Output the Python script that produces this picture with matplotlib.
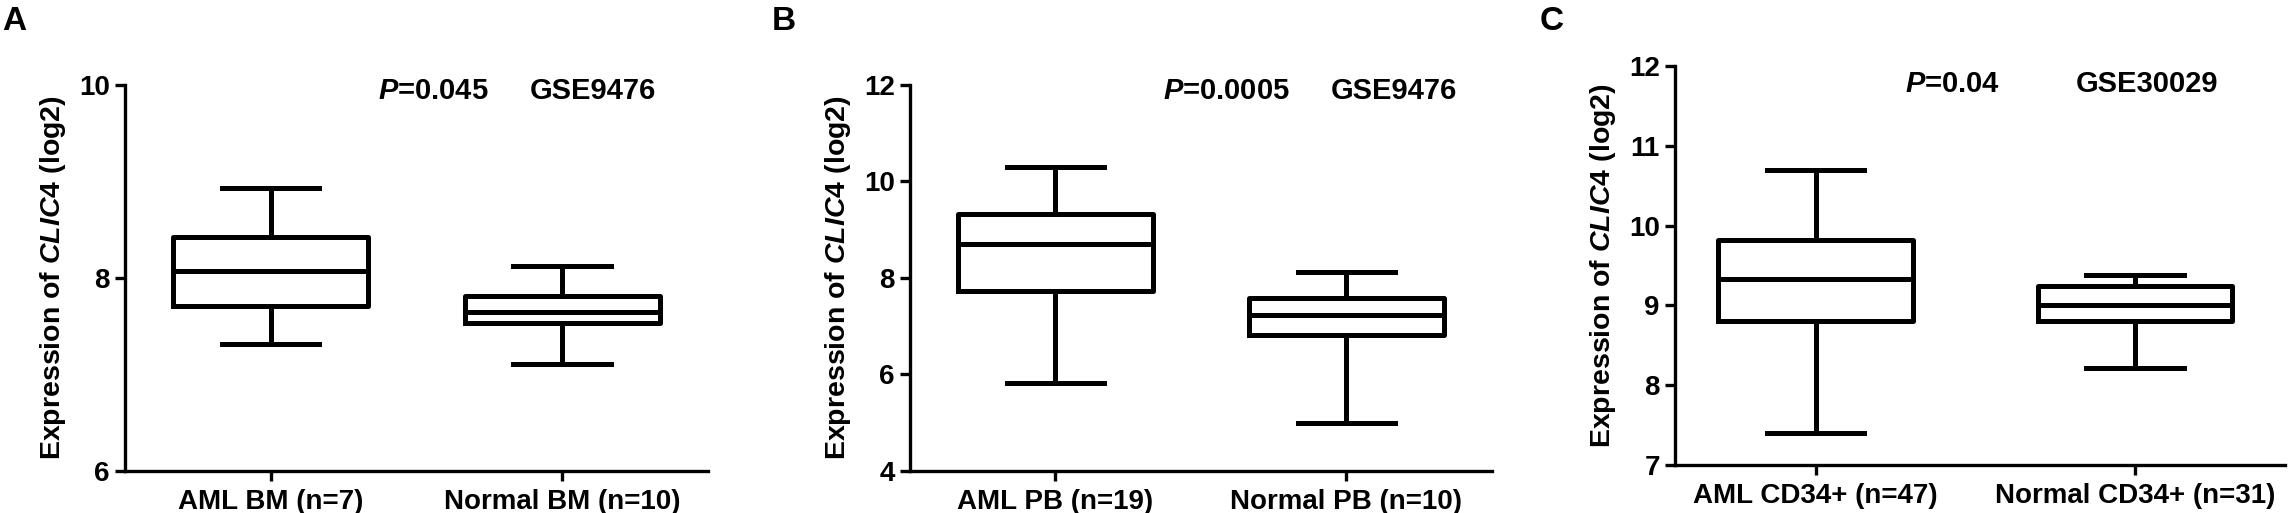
import matplotlib
matplotlib.use("Agg")
import matplotlib.pyplot as plt

plt.rcParams['font.family'] = ['Liberation Sans', 'DejaVu Sans']
plt.rcParams['font.weight'] = 'bold'
plt.rcParams['mathtext.fontset'] = 'custom'
plt.rcParams['mathtext.it'] = 'Liberation Sans:italic:bold'
plt.rcParams['mathtext.rm'] = 'Liberation Sans:bold'

# Data
labels_a = ['AML BM (n=7)', 'Normal BM (n=10)']
whislo_a = [7.32, 7.11]
q1_a = [7.71, 7.53]
med_a = [8.07, 7.65]
q3_a = [8.42, 7.81]
whishi_a = [8.93, 8.12]

labels_b = ['AML PB (n=19)', 'Normal PB (n=10)']
whislo_b = [5.83, 5.00]
q1_b = [7.74, 6.82]
med_b = [8.70, 7.23]
q3_b = [9.32, 7.59]
whishi_b = [10.31, 8.12]

labels_c = ['AML CD34+ (n=47)', 'Normal CD34+ (n=31)']
whislo_c = [7.40, 8.21]
q1_c = [8.80, 8.80]
med_c = [9.33, 9.01]
q3_c = [9.82, 9.24]
whishi_c = [10.70, 9.38]

pvals = ['0.045', '0.0005', '0.04']
datasets = ['GSE9476', 'GSE9476', 'GSE30029']
panel_letters = ['A', 'B', 'C']


def make_stats(labels, lo, q1, med, q3, hi):
    return [dict(label=l, whislo=a, q1=b, med=c, q3=d, whishi=e)
            for l, a, b, c, d, e in zip(labels, lo, q1, med, q3, hi)]


fig = plt.figure(figsize=(22.88, 5.13), dpi=100)

panels = [
    dict(rect=[0.0546, 0.0819, 0.2548, 0.7524], stats=make_stats(labels_a, whislo_a, q1_a, med_a, q3_a, whishi_a),
         ylim=(6, 10), yticks=[6, 8, 10], xlim=(0.5, 2.5), width=0.67, ptxt=(0.434, 0.695, 0.984)),
    dict(rect=[0.3977, 0.0819, 0.2544, 0.7524], stats=make_stats(labels_b, whislo_b, q1_b, med_b, q3_b, whishi_b),
         ylim=(4, 12), yticks=[4, 6, 8, 10, 12], xlim=(0.5, 2.5), width=0.67, ptxt=(0.435, 0.723, 0.984)),
    dict(rect=[0.7321, 0.0936, 0.2666, 0.7778], stats=make_stats(labels_c, whislo_c, q1_c, med_c, q3_c, whishi_c),
         ylim=(7, 12), yticks=[7, 8, 9, 10, 11, 12], xlim=(0.56, 2.47), width=0.61, ptxt=(0.377, 0.657, 0.955)),
]
letter_x = [2, 772, 1540]

for i, p in enumerate(panels):
    ax = fig.add_axes(p['rect'])
    lw = 3.6
    ax.bxp(p['stats'], positions=[1, 2], widths=p['width'], showfliers=False,
           boxprops=dict(linewidth=lw, color='black'),
           medianprops=dict(linewidth=lw, color='black'),
           whiskerprops=dict(linewidth=lw, color='black'),
           capprops=dict(linewidth=lw, color='black'),
           capwidths=p['width'] / 2)
    ax.set_xlim(*p['xlim'])
    ax.set_ylim(*p['ylim'])
    ax.set_yticks(p['yticks'])
    ax.spines['top'].set_visible(False)
    ax.spines['right'].set_visible(False)
    ax.spines['left'].set_linewidth(2.4)
    ax.spines['bottom'].set_linewidth(2.4)
    ax.tick_params(axis='both', width=2.4, length=7, labelsize=20, pad=4)
    ax.tick_params(axis='x', pad=6)
    for t in ax.get_xticklabels() + ax.get_yticklabels():
        t.set_fontweight('bold')
    ax.set_ylabel(r'Expression of $\mathit{CLIC4}$ (log2)', fontsize=20.5, fontweight='bold', labelpad=8)
    px, gx, ty = p['ptxt']
    ax.text(px, ty, r'$\mathit{P}$=' + pvals[i], transform=ax.transAxes, fontsize=21,
            fontweight='bold', va='center', ha='left')
    ax.text(gx, ty, datasets[i], transform=ax.transAxes, fontsize=21,
            fontweight='bold', va='center', ha='left')
    fig.text(letter_x[i] / 2288, 1 - 6 / 513, panel_letters[i], fontsize=24,
             fontweight='bold', va='top', ha='left')

fig.savefig('out.png', dpi=100)
